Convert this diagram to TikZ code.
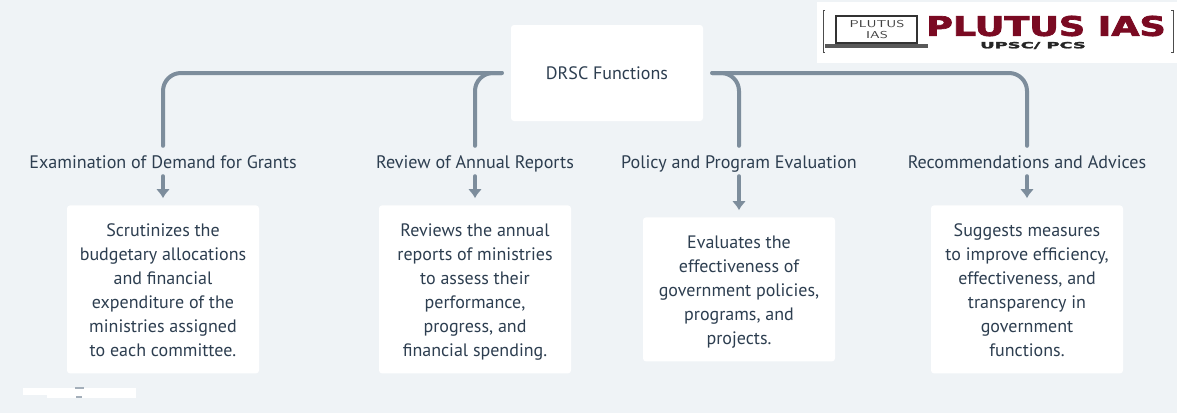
\documentclass[tikz,border=0pt]{standalone}
\usepackage{fontspec}
\setmainfont{PT Sans}
\newfontfamily\logofont{DejaVu Sans}[BoldFeatures={FakeBold=2.5}]
\usepackage{tikz}
\usetikzlibrary{positioning,arrows.meta}

\definecolor{pagebg}{HTML}{EFF3F6}
\definecolor{linkgray}{HTML}{7D8D9C}
\definecolor{inkblue}{HTML}{2D3E50}
\definecolor{logored}{HTML}{7A0A22}

\begin{document}
\begin{tikzpicture}[
    x=1pt, y=1pt,
    block/.style={
      rounded corners=3pt, fill=white, text=inkblue, align=center,
      font=\fontsize{18}{24}\selectfont, inner sep=0pt, minimum width=192pt
    },
    root/.style={block, minimum height=96pt},
    panel/.style={block, text height=#1, text depth=4pt},
    title/.style={text=inkblue, font=\fontsize{18.1}{20}\selectfont, inner sep=0pt, minimum height=30pt, text height=17pt, text depth=3pt},
    branch/.style={draw=linkgray, line width=4pt, line cap=round, rounded corners=18pt, shorten <=9pt},
    feed/.style={draw=linkgray, line width=4pt, line cap=round, shorten >=7pt, -{Latex[length=9pt,width=14pt]}},
    logotext/.style={text=logored, inner sep=0pt},
  ]
    \fill[pagebg] (0,0) rectangle (1177,-413);
    \useasboundingbox (0,0) rectangle (1177,-413);

    \node[root](drsc) at (607,-73) {\raisebox{-1pt}{DRSC Functions}};

    \node[title](grants) at (163,-161) {Examination of Demand for Grants};
    \node[title](annual) at (475,-161) {Review of Annual Reports};
    \node[title](policy) at (739,-161) {Policy and Program Evaluation};
    \node[title](advice) at (1027,-161) {Recommendations and Advices};

    \node[panel=138pt, minimum height=168pt, below=29pt of grants](grants_box){
      Scrutinizes the\\ budgetary allocations\\ and financial\\ expenditure of the\\ ministries assigned\\ to each committee.
    };
    \node[panel=138pt, minimum height=168pt, below=29pt of annual](annual_box){
      Reviews the annual\\ reports of ministries\\ to assess their\\ performance,\\ progress, and\\ financial spending.
    };
    \node[panel=114pt, minimum height=144pt, below=41pt of policy](policy_box){
      Evaluates the\\ effectiveness of\\ government policies,\\ programs, and\\ projects.
    };
    \node[panel=138pt, minimum height=168pt, below=29pt of advice](advice_box){
      Suggests measures\\ to improve efficiency,\\ effectiveness, and\\ transparency in\\ government\\ functions.
    };

    \draw[branch] (drsc.west) -| (grants.north);
    \draw[branch] (drsc.west) -| (annual.north);
    \draw[branch] (drsc.east) -| (policy.north);
    \draw[branch] (drsc.east) -| (advice.north);

    \draw[feed] (grants) -- (grants_box);
    \draw[feed] (annual) -- (annual_box);
    \draw[feed] (policy) -- (policy_box);
    \draw[feed] (advice) -- (advice_box);

    % logo
    \fill[white] (817,-2) rectangle (1177,-63);
    \draw[black!70, line width=0.6pt] (825,-10) -- (823,-10) -- (823,-52) -- (825,-52);
    \draw[black!70, line width=0.6pt] (1171,-10) -- (1173,-10) -- (1173,-52) -- (1171,-52);
    \draw[black!80, fill=white, line width=1.2pt] (836,-16) rectangle (917,-43);
    \fill[black!65] (825,-44) rectangle (928,-47.5);
    \node[inner sep=0pt, align=center, text=black!75, xscale=1.45, font=\sffamily\fontsize{10}{11}\selectfont](laptop) at (877,-29.5) {PLUTUS\\ IAS};
    \node[logotext, font=\logofont\bfseries\fontsize{27}{27}\selectfont, xscale=1.35](brand) at (1046,-26) {PLUTUS IAS};
    \node[logotext, text=black!85, font=\logofont\bfseries\fontsize{8.5}{9}\selectfont, xscale=2.1](exam) at (1033,-45.5) {UPSC/ PCS};

    % white strip, bottom left
    \fill[white] (23,-388) rectangle (47,-395);
    \fill[white] (47,-388) rectangle (136,-398);
    \fill[linkgray!70] (75,-386.5) rectangle (84,-389);
    \fill[linkgray!70] (76,-396) rectangle (82,-398);
\end{tikzpicture}
\end{document}
